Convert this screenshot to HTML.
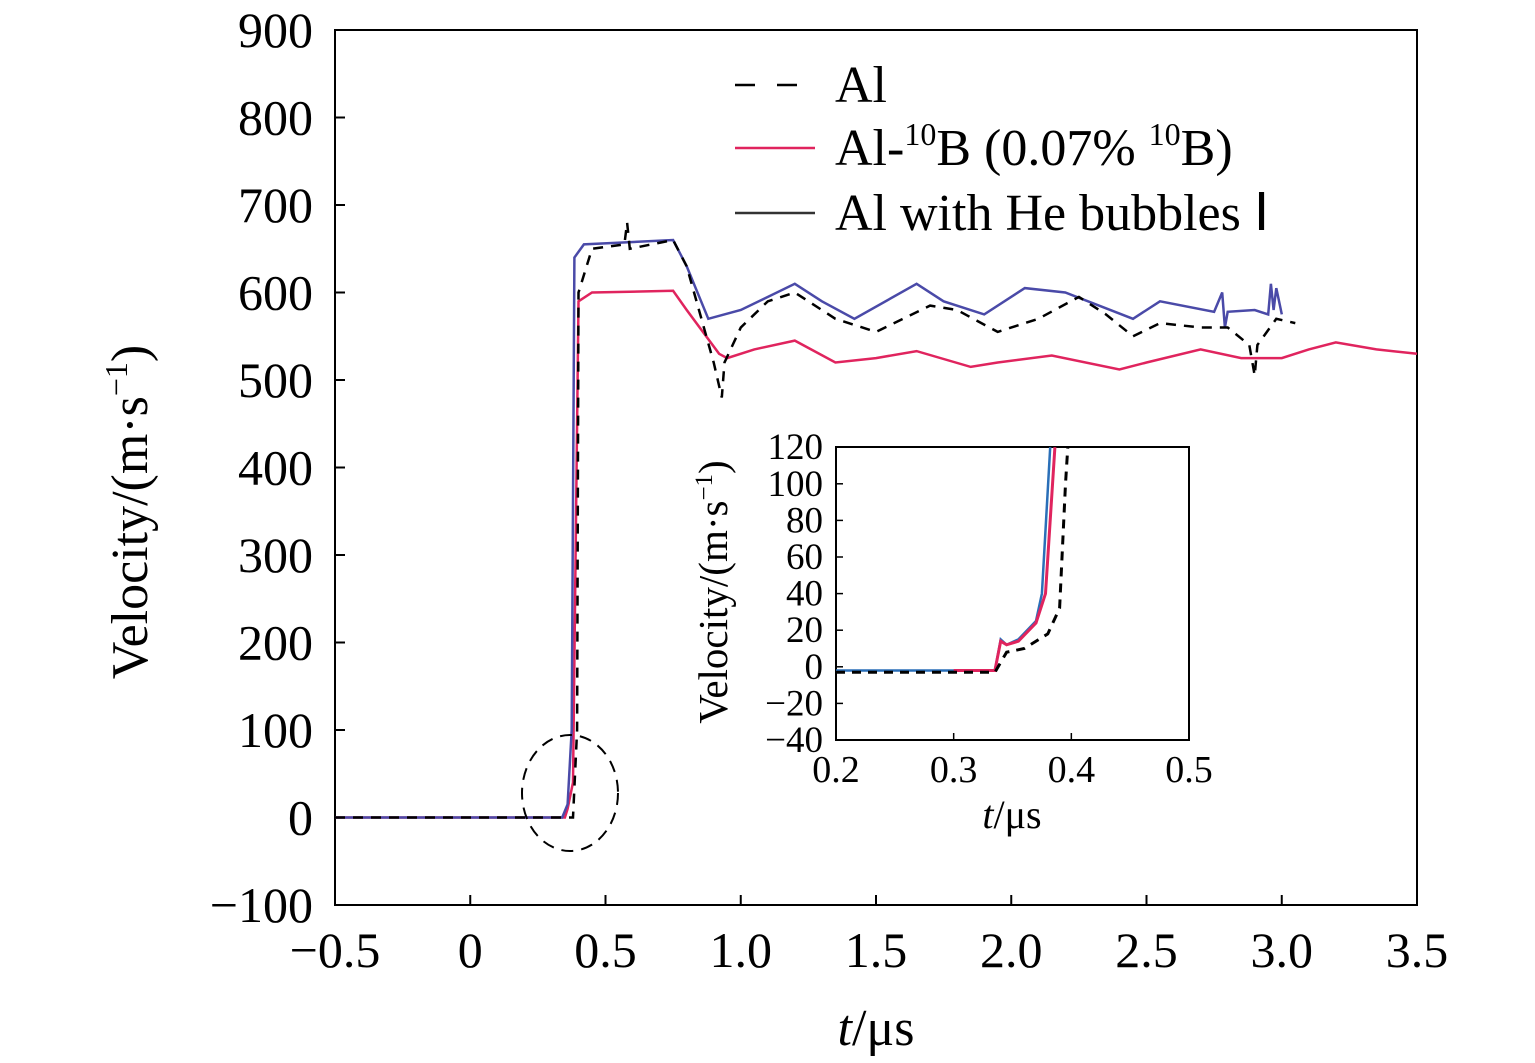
<!DOCTYPE html>
<html><head><meta charset="utf-8"><style>
body{margin:0;background:#fff}
svg{display:block;font-family:"Liberation Serif",serif}
</style></head><body>
<svg id="c" width="1535" height="1063" viewBox="0 0 1535 1063" xmlns="http://www.w3.org/2000/svg">
<rect width="1535" height="1063" fill="#fff"/>
<g id="main"></g>
<g id="inset"></g>
<g font-size="52">
<line x1="735" y1="85" x2="815" y2="85" stroke="#000" stroke-width="2.5" stroke-dasharray="20,22"/>
<text x="835" y="102">Al</text>
<line x1="735" y1="148" x2="815" y2="148" stroke="#e0245e" stroke-width="2.5"/>
<text x="835" y="165">Al-<tspan font-size="32" dy="-20">10</tspan><tspan dy="20">B (0.07% </tspan><tspan font-size="32" dy="-20">10</tspan><tspan dy="20">B)</tspan></text>
<line x1="735" y1="213" x2="815" y2="213" stroke="#333" stroke-width="2.5"/>
<text x="835" y="230">Al with He bubbles  Ⅰ</text>
</g>
</svg>
<script>
const alT=[-0.5,0.38,0.395,0.40,0.45,0.57,0.58,0.59,0.75,0.8,0.9,0.93,0.94,1.0,1.1,1.2,1.35,1.5,1.7,1.8,1.95,2.1,2.25,2.35,2.45,2.55,2.7,2.8,2.88,2.9,2.91,2.98,3.05];
const alV=[0,0,100,600,650,655,680,650,660,630,520,480,520,560,590,600,570,555,585,580,555,570,595,575,550,565,560,560,540,505,540,570,565];
const abT=[-0.5,0.35,0.36,0.38,0.40,0.45,0.75,0.8,0.92,0.95,1.05,1.2,1.35,1.5,1.65,1.85,1.95,2.15,2.4,2.5,2.7,2.85,3.0,3.1,3.2,3.35,3.5];
const abV=[0,0,10,40,590,600,602,580,530,525,535,545,520,525,533,515,520,528,512,520,535,525,525,535,543,535,530];
const heT=[-0.5,0.34,0.36,0.375,0.385,0.42,0.75,0.8,0.88,1.0,1.2,1.3,1.42,1.65,1.75,1.9,2.05,2.2,2.45,2.55,2.75,2.78,2.79,2.8,2.9,2.95,2.96,2.97,2.98,3.0];
const heV=[0,0,15,100,640,655,660,630,570,580,610,590,570,610,590,575,605,600,570,590,578,600,560,578,580,575,610,580,605,575];
const inAlT=[0.2,0.335,0.345,0.36,0.38,0.39,0.395,0.397];
const inAlV=[-3,-3,8,10,18,32,100,120];
const inAbT=[0.3,0.335,0.34,0.345,0.355,0.37,0.378,0.386];
const inAbV=[-2,-2,14,12,14,24,40,120];
const inHeT=[0.2,0.335,0.34,0.345,0.355,0.37,0.375,0.382];
const inHeV=[-2,-2,15,12,15,25,40,120];
const xTicks=[-0.5,0,0.5,1.0,1.5,2.0,2.5,3.0,3.5];
const xLabels=["−0.5","0","0.5","1.0","1.5","2.0","2.5","3.0","3.5"];
const yTicks=[-100,0,100,200,300,400,500,600,700,800,900];
const yLabels=["−100","0","100","200","300","400","500","600","700","800","900"];
const ixTicks=[0.2,0.3,0.4,0.5];
const ixLabels=["0.2","0.3","0.4","0.5"];
const iyTicks=[-40,-20,0,20,40,60,80,100,120];
const iyLabels=["−40","−20","0","20","40","60","80","100","120"];

const NS="http://www.w3.org/2000/svg";
function mk(p,tag,a){const e=document.createElementNS(NS,tag);for(const k in a)e.setAttribute(k,a[k]);p.appendChild(e);return e;}
const X=t=>335+(t+0.5)*270.5, Y=v=>817.5-v*0.875;
const IX=t=>836+(t-0.2)*1176.7, IY=v=>740-(v+40)*1.83;
const main=document.getElementById('main'), ins=document.getElementById('inset');
function path(g,ts,vs,fx,fy,st,w,da,name){
  let d=ts.map((t,i)=>(i?'L':'M')+fx(t).toFixed(1)+','+fy(vs[i]).toFixed(1)).join('');
  const p=mk(g,'path',{d:d,fill:'none',stroke:st,'stroke-width':w});
  if(da)p.setAttribute('stroke-dasharray',da);
  
  
}
const fr=mk(main,'rect',{x:335,y:30,width:1082,height:875,fill:'none',stroke:'#000','stroke-width':2});


xTicks.forEach((t,i)=>{
  mk(main,'line',{x1:X(t),x2:X(t),y1:905,y2:895,stroke:'#000','stroke-width':2});
  const tx=mk(main,'text',{x:X(t),y:967,'font-size':50,'text-anchor':'middle'});tx.textContent=xLabels[i];
  
  
});
yTicks.forEach((v,i)=>{
  mk(main,'line',{x1:335,x2:345,y1:Y(v),y2:Y(v),stroke:'#000','stroke-width':2});
  const tx=mk(main,'text',{x:313,y:Y(v)+17,'font-size':50,'text-anchor':'end'});tx.textContent=yLabels[i];
  
  
});
let xt=mk(main,'text',{x:876,y:1045,'font-size':52,'text-anchor':'middle'});
xt.innerHTML='<tspan font-style="italic">t</tspan>/μs';


let yt=mk(main,'text',{x:0,y:0,'font-size':52,'text-anchor':'middle',transform:'translate(147,512) rotate(-90)'});
yt.innerHTML='Velocity/(m·s<tspan font-size="32" dy="-20">−1</tspan><tspan dy="20">)</tspan>';


path(main,abT,abV,X,Y,'#e0245e',2.5,null,'series-al-10b');
path(main,heT,heV,X,Y,'#4a4aa8',2.5,null,'series-al-he');
path(main,alT,alV,X,Y,'#000',2.5,'10,8','series-al');
const ci=mk(main,'ellipse',{cx:570,cy:793,rx:48,ry:58,fill:'none',stroke:'#000','stroke-width':2,'stroke-dasharray':'12,8'});


const ifr=mk(ins,'rect',{x:836,y:447,width:353,height:293,fill:'#fff',stroke:'#000','stroke-width':2});


ixTicks.forEach((t,i)=>{
  mk(ins,'line',{x1:IX(t),x2:IX(t),y1:740,y2:733,stroke:'#000','stroke-width':1.5});
  const tx=mk(ins,'text',{x:IX(t),y:782,'font-size':38,'text-anchor':'middle'});tx.textContent=ixLabels[i];
  
  
});
iyTicks.forEach((v,i)=>{
  mk(ins,'line',{x1:836,x2:843,y1:IY(v),y2:IY(v),stroke:'#000','stroke-width':1.5});
  const tx=mk(ins,'text',{x:823,y:IY(v)+12,'font-size':37,'text-anchor':'end'});tx.textContent=iyLabels[i];
  
  
});
let ixt=mk(ins,'text',{x:1012,y:828,'font-size':40,'text-anchor':'middle'});
ixt.innerHTML='<tspan font-style="italic">t</tspan>/μs';


let iyt=mk(ins,'text',{x:0,y:0,'font-size':41,'text-anchor':'middle',transform:'translate(727,592) rotate(-90)'});
iyt.innerHTML='Velocity/(m·s<tspan font-size="25" dy="-15">−1</tspan><tspan dy="15">)</tspan>';


path(ins,inHeT,inHeV,IX,IY,'#2a6fb8',2.5,null,'inset-series-al-he');
path(ins,inAbT,inAbV,IX,IY,'#e0245e',3,null,'inset-series-al-10b');
path(ins,inAlT,inAlV,IX,IY,'#000',3,'9,7','inset-series-al');
</script>
</body></html>
